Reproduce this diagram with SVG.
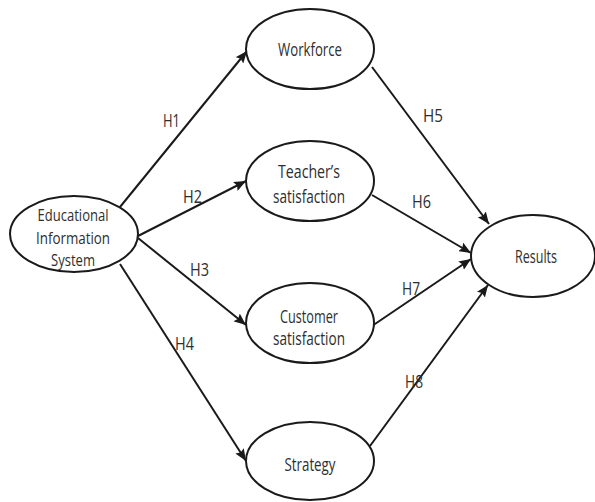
<svg xmlns="http://www.w3.org/2000/svg" width="595" height="502" viewBox="0 0 595 502">
  <defs>
    <marker id="arrow" markerUnits="userSpaceOnUse" markerWidth="13" markerHeight="10" refX="12" refY="5" orient="auto">
      <path d="M0,0 L12,5 L0,10 L2,5 Z" fill="#1a1a1a"/>
    </marker>
    <style>
      .node ellipse { fill: #ffffff; stroke: #1a1a1a; stroke-width: 2; }
      .node text, .label { font-family: "Open Sans", "Liberation Sans", sans-serif; font-size: 18px; fill: #2e2e2e; }
      .node text { text-anchor: middle; }
      #educational-information-system text { font-size: 17px; }
      .edges line { stroke: #1a1a1a; stroke-width: 2; marker-end: url(#arrow); }
    </style>
  </defs>
  <rect width="595" height="502" fill="#ffffff"/>

  <g id="connectors" class="edges">
    <line x1="120" y1="207" x2="247" y2="51"/>
    <line x1="138" y1="236" x2="246" y2="181"/>
    <line x1="138" y1="238" x2="246" y2="325"/>
    <line x1="120" y1="264" x2="246" y2="461"/>
    <line x1="372" y1="67" x2="489" y2="224"/>
    <line x1="372" y1="195" x2="471" y2="253"/>
    <line x1="372" y1="326" x2="471" y2="259"/>
    <line x1="370" y1="446" x2="488" y2="285"/>
  </g>

  <g id="edge-labels">
    <text class="label" x="163" y="127" textLength="17" lengthAdjust="spacingAndGlyphs">H1</text>
    <text class="label" x="183" y="203" textLength="19" lengthAdjust="spacingAndGlyphs">H2</text>
    <text class="label" x="190" y="276" textLength="19" lengthAdjust="spacingAndGlyphs">H3</text>
    <text class="label" x="175" y="350" textLength="19" lengthAdjust="spacingAndGlyphs">H4</text>
    <text class="label" x="423" y="122" textLength="20" lengthAdjust="spacingAndGlyphs">H5</text>
    <text class="label" x="412" y="208" textLength="19" lengthAdjust="spacingAndGlyphs">H6</text>
    <text class="label" x="402" y="295" textLength="18" lengthAdjust="spacingAndGlyphs">H7</text>
    <text class="label" x="405" y="388" textLength="18" lengthAdjust="spacingAndGlyphs">H8</text>
  </g>

  <g id="educational-information-system" class="node">
    <ellipse cx="74" cy="234" rx="64" ry="38"/>
    <text x="73" y="221" textLength="71" lengthAdjust="spacingAndGlyphs">Educational</text>
    <text x="73" y="244" textLength="74" lengthAdjust="spacingAndGlyphs">Information</text>
    <text x="73" y="266" textLength="44" lengthAdjust="spacingAndGlyphs">System</text>
  </g>

  <g id="workforce" class="node">
    <ellipse cx="310" cy="49" rx="64" ry="40"/>
    <text x="310" y="56" textLength="64" lengthAdjust="spacingAndGlyphs">Workforce</text>
  </g>

  <g id="teachers-satisfaction" class="node">
    <ellipse cx="310" cy="181" rx="64" ry="40"/>
    <text x="309" y="178" textLength="62" lengthAdjust="spacingAndGlyphs">Teacher’s</text>
    <text x="309" y="203" textLength="72" lengthAdjust="spacingAndGlyphs">satisfaction</text>
  </g>

  <g id="customer-satisfaction" class="node">
    <ellipse cx="310" cy="323" rx="64" ry="40"/>
    <text x="309" y="323" textLength="58" lengthAdjust="spacingAndGlyphs">Customer</text>
    <text x="309" y="345" textLength="72" lengthAdjust="spacingAndGlyphs">satisfaction</text>
  </g>

  <g id="strategy" class="node">
    <ellipse cx="310" cy="461" rx="64" ry="39"/>
    <text x="310" y="471" textLength="51" lengthAdjust="spacingAndGlyphs">Strategy</text>
  </g>

  <g id="results" class="node">
    <ellipse cx="533" cy="256" rx="62" ry="41"/>
    <text x="536" y="263" textLength="42" lengthAdjust="spacingAndGlyphs">Results</text>
  </g>
</svg>
